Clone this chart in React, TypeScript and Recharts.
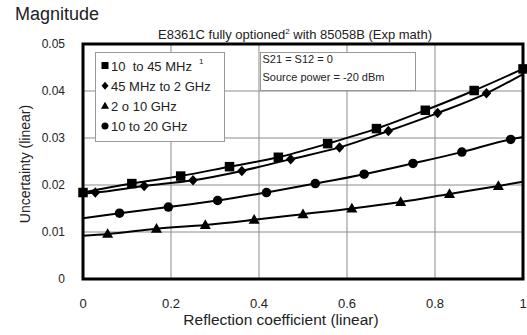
import React from "react";
import { ComposedChart, Line, XAxis, YAxis, CartesianGrid, ReferenceArea } from "recharts";

const FONT = "'Liberation Sans', Arial, sans-serif";

const xTicks = [0, 0.2, 0.4, 0.6, 0.8, 1];
const yTicks = [0, 0.01, 0.02, 0.03, 0.04, 0.05];

const seriesNames = ["10  to 45 MHz", "45 MHz to 2 GHz", "2 o 10 GHz", "10 to 20 GHz"];
const seriesShapes = ["square", "diamond", "triangle", "circle"];

// 10 to 45 MHz (squares, first and last point sit on the frame)
const sqX = [0, 0.111, 0.222, 0.333, 0.444, 0.556, 0.667, 0.778, 0.889, 1];
const sqY = [0.0184, 0.0203, 0.0219, 0.0239, 0.0259, 0.0288, 0.032, 0.0359, 0.0401, 0.0447];

// 45 MHz to 2 GHz (diamonds); curve values at x=0 and x=1
const dmX = [0.028, 0.139, 0.25, 0.361, 0.472, 0.583, 0.694, 0.806, 0.917];
const dmY = [0.0184, 0.0198, 0.021, 0.023, 0.0255, 0.028, 0.0315, 0.0353, 0.0395];
const dmEnds = [0.0182, 0.0436];

// 2 o 10 GHz (triangles)
const trX = [0.056, 0.167, 0.278, 0.389, 0.5, 0.611, 0.722, 0.833, 0.944];
const trY = [0.0096, 0.0107, 0.0115, 0.0126, 0.0138, 0.015, 0.0164, 0.0181, 0.0198];
const trEnds = [0.0092, 0.0207];

// 10 to 20 GHz (circles)
const ciX = [0.083, 0.194, 0.306, 0.417, 0.528, 0.639, 0.75, 0.861, 0.972];
const ciY = [0.014, 0.0153, 0.0167, 0.0184, 0.0203, 0.0223, 0.0246, 0.027, 0.0297];
const ciEnds = [0.0129, 0.0302];

type Pt = { x: number; y: number; m: boolean };

function build(xs: number[], ys: number[], ends?: number[]): Pt[] {
  const pts: Pt[] = xs.map((x, i) => ({ x, y: ys[i], m: true }));
  if (!ends) return pts;
  return [{ x: 0, y: ends[0], m: false }, ...pts, { x: 1, y: ends[1], m: false }];
}

const sqData = build(sqX, sqY);
const dmData = build(dmX, dmY, dmEnds);
const trData = build(trX, trY, trEnds);
const ciData = build(ciX, ciY, ciEnds);

function Marker({ shape, cx, cy, s }: { shape: string; cx: number; cy: number; s: number }) {
  const h = s / 2;
  if (shape === "square") return <rect x={cx - h} y={cy - h} width={s} height={s} fill="#000" />;
  if (shape === "diamond")
    return <polygon points={`${cx},${cy - h - 0.5} ${cx + h},${cy} ${cx},${cy + h + 0.5} ${cx - h},${cy}`} fill="#000" />;
  if (shape === "triangle")
    return (
      <polygon
        points={`${cx},${cy - s * 0.6} ${cx + s * 0.58},${cy + s * 0.42} ${cx - s * 0.58},${cy + s * 0.42}`}
        fill="#000"
      />
    );
  return <circle cx={cx} cy={cy} r={h} fill="#000" />;
}

const dotFor = (shape: string) => (props: any) => {
  const { cx, cy, payload, index } = props;
  if (!payload || !payload.m) return <g key={`${shape}-${index}`} />;
  return (
    <g key={`${shape}-${index}`}>
      <Marker shape={shape} cx={cx} cy={cy} s={9.5} />
    </g>
  );
};

export default function App() {
  return (
    <div style={{ position: "absolute", left: 0, top: 0, width: 527, height: 335, background: "#fff", fontFamily: FONT }}>
      <ComposedChart width={527} height={335} margin={{ top: 44, right: 4, bottom: 0, left: 0 }}>
        <CartesianGrid stroke="#8c8c8c" strokeWidth={1} />
        <XAxis
          type="number"
          dataKey="x"
          domain={[0, 1]}
          ticks={xTicks}
          tickFormatter={(v: number) => String(v)}
          axisLine={false}
          tickLine={false}
          tickSize={0}
          tickMargin={20}
          height={56}
          tick={{ fill: "#222", fontSize: 13, fontFamily: FONT }}
        />
        <YAxis
          type="number"
          domain={[0, 0.05]}
          ticks={yTicks}
          tickFormatter={(v: number) => (v === 0 ? "0" : v.toFixed(2))}
          axisLine={false}
          tickLine={false}
          tickSize={0}
          tickMargin={18}
          width={83}
          tick={{ fill: "#222", fontSize: 12, fontFamily: FONT }}
        />
        <Line data={trData} dataKey="y" type="monotone" stroke="#000" strokeWidth={2} dot={dotFor("triangle")} isAnimationActive={false} />
        <Line data={ciData} dataKey="y" type="monotone" stroke="#000" strokeWidth={2} dot={dotFor("circle")} isAnimationActive={false} />
        <Line data={dmData} dataKey="y" type="monotone" stroke="#000" strokeWidth={2} dot={dotFor("diamond")} isAnimationActive={false} />
        <Line data={sqData} dataKey="y" type="monotone" stroke="#000" strokeWidth={2} dot={dotFor("square")} isAnimationActive={false} />
        <ReferenceArea x1={0} x2={1} y1={0} y2={0.05} fill="none" fillOpacity={0} stroke="#000" strokeWidth={3} ifOverflow="visible" />
      </ComposedChart>

      <svg width={527} height={335} style={{ position: "absolute", left: 0, top: 0, pointerEvents: "none" }} fontFamily={FONT}>
        <text x={15} y={19.5} fontSize={18} fill="#222">Magnitude</text>
        <text x={295} y={38.5} fontSize={13} fill="#222" textAnchor="middle">
          E8361C fully optioned<tspan fontSize={8} dy={-5}>2</tspan>
          <tspan dy={5}> with 85058B (Exp math)</tspan>
        </text>
        <text x={281} y={325} fontSize={15.5} fill="#222" textAnchor="middle">Reflection coefficient (linear)</text>
        <text x={29.5} y={164} fontSize={14} fill="#222" textAnchor="middle" transform="rotate(-90 29.5 164)">
          Uncertainty (linear)
        </text>

        <rect x={95.5} y={52.5} width={129} height={89} fill="#fff" stroke="#999" strokeWidth={1} />
        {seriesNames.map((name, i) => {
          const cy = 65.5 + i * 20.2;
          return (
            <g key={name}>
              <Marker shape={seriesShapes[i]} cx={105} cy={cy} s={7} />
              <text x={111} y={cy + 5} fontSize={13} fill="#222" style={{ whiteSpace: "pre" }}>
                {name}
              </text>
              {i === 0 && (
                <text x={199} y={cy - 2} fontSize={8} fill="#222">1</text>
              )}
            </g>
          );
        })}

        <rect x={260.5} y={52.5} width={155} height={38} fill="#fff" stroke="#999" strokeWidth={1} />
        <text x={262.5} y={63} fontSize={11} fill="#222">S21 = S12 = 0</text>
        <text x={262.5} y={81} fontSize={11} fill="#222">Source power = -20 dBm</text>
      </svg>
    </div>
  );
}
